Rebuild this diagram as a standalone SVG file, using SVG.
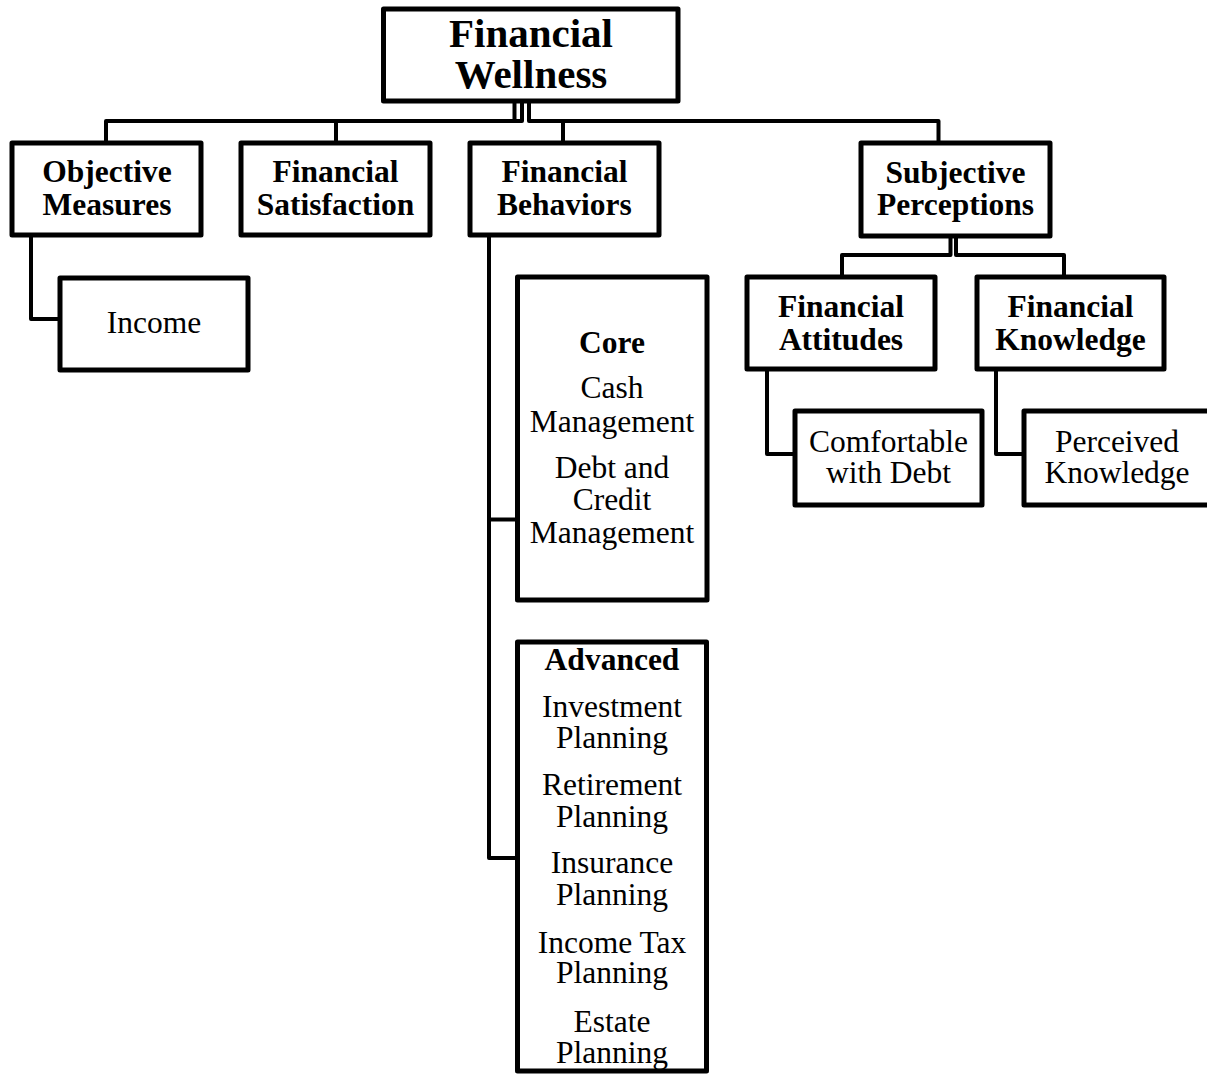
<svg xmlns="http://www.w3.org/2000/svg" width="1207" height="1076" viewBox="0 0 1207 1076">
<style>
.box{fill:#fff;stroke:#000;stroke-width:5;stroke-linejoin:round}
.conn{fill:none;stroke:#000;stroke-width:4;stroke-linejoin:round}
text{font-family:"Liberation Serif","Times New Roman",serif;font-size:31.5px;text-anchor:middle;fill:#000}
.b{font-weight:bold}
.root{font-size:41px;font-weight:bold}
</style>
<rect width="1207" height="1076" fill="#fff"/>
<g id="connectors">
<path class="conn" d="M106 143 V121 H522 V101"/>
<path class="conn" d="M514.5 101 V121"/>
<path class="conn" d="M336 121 V143"/>
<path class="conn" d="M529 101 V121 H938.5 V143"/>
<path class="conn" d="M563 121 V143"/>
<path class="conn" d="M31 235 V319 H60"/>
<path class="conn" d="M489 235 V858 H517.5"/>
<path class="conn" d="M489 519.5 H517.5"/>
<path class="conn" d="M950.5 236 V255 H842 V277"/>
<path class="conn" d="M956 236 V255 H1064 V277"/>
<path class="conn" d="M767 369 V454 H795"/>
<path class="conn" d="M996 369 V454 H1024"/>
</g>
<g id="root">
<rect class="box" x="383.5" y="9" width="294.5" height="92"/>
<text class="root" x="531" y="47">Financial</text>
<text class="root" x="531" y="88">Wellness</text>
</g>
<g id="objective">
<rect class="box" x="12" y="143" width="189" height="92"/>
<text class="b" x="107" y="182">Objective</text>
<text class="b" x="107" y="215">Measures</text>
</g>
<g id="satisfaction">
<rect class="box" x="241" y="143" width="189" height="92"/>
<text class="b" x="335.5" y="182">Financial</text>
<text class="b" x="335.5" y="215">Satisfaction</text>
</g>
<g id="behaviors">
<rect class="box" x="470" y="143" width="189" height="92"/>
<text class="b" x="564.5" y="182">Financial</text>
<text class="b" x="564.5" y="215">Behaviors</text>
</g>
<g id="subjective">
<rect class="box" x="861" y="143" width="189" height="93"/>
<text class="b" x="955.5" y="183">Subjective</text>
<text class="b" x="955.5" y="215">Perceptions</text>
</g>
<g id="income">
<rect class="box" x="60" y="278" width="188" height="92"/>
<text x="154" y="333">Income</text>
</g>
<g id="attitudes">
<rect class="box" x="747" y="277" width="188" height="92"/>
<text class="b" x="841" y="317">Financial</text>
<text class="b" x="841" y="350">Attitudes</text>
</g>
<g id="knowledge">
<rect class="box" x="977" y="277" width="187" height="92"/>
<text class="b" x="1070.5" y="317">Financial</text>
<text class="b" x="1070.5" y="350">Knowledge</text>
</g>
<g id="comfortable">
<rect class="box" x="795" y="411" width="187" height="94"/>
<text x="888.5" y="452">Comfortable</text>
<text x="888.5" y="483">with Debt</text>
</g>
<g id="perceived">
<rect class="box" x="1024" y="411" width="192" height="94"/>
<text x="1117" y="452">Perceived</text>
<text x="1117" y="483">Knowledge</text>
</g>
<g id="core">
<rect class="box" x="517.5" y="277" width="189.5" height="323"/>
<text class="b" x="612" y="353">Core</text>
<text x="612" y="398">Cash</text>
<text x="612" y="432">Management</text>
<text x="612" y="478">Debt and</text>
<text x="612" y="510">Credit</text>
<text x="612" y="543">Management</text>
</g>
<g id="advanced">
<rect class="box" x="517.5" y="642" width="189" height="429"/>
<text class="b" x="612" y="670">Advanced</text>
<text x="612" y="717">Investment</text>
<text x="612" y="748">Planning</text>
<text x="612" y="795">Retirement</text>
<text x="612" y="827">Planning</text>
<text x="612" y="873">Insurance</text>
<text x="612" y="905">Planning</text>
<text x="612" y="953">Income Tax</text>
<text x="612" y="983">Planning</text>
<text x="612" y="1032">Estate</text>
<text x="612" y="1063">Planning</text>
</g>
</svg>
